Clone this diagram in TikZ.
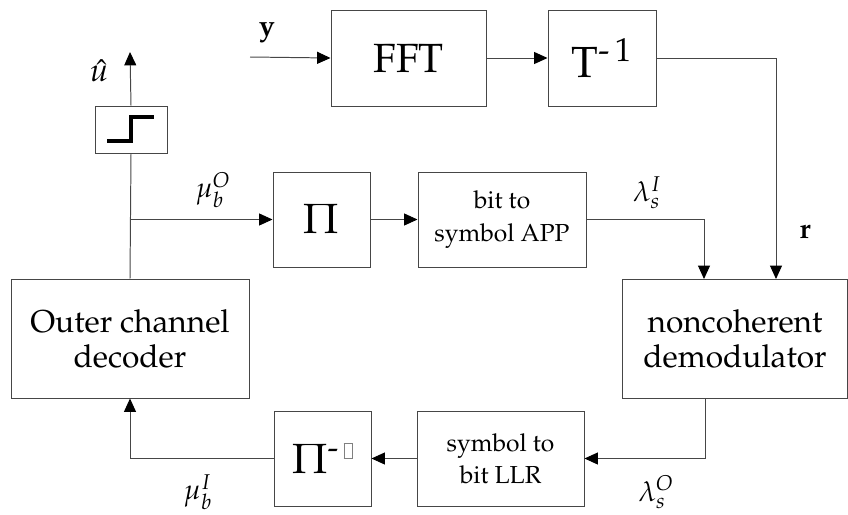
\documentclass[tikz,border=0pt]{standalone}
\usepackage[T1]{fontenc}
\usepackage{mathpazo}
\usetikzlibrary{arrows.meta, positioning}
\definecolor{wiregray}{RGB}{70,70,70}
\newcommand{\px}{0.025cm}
\newcommand{\missingglyph}{\textcolor{gray}{\fboxsep=0pt\fboxrule=0.5pt\fbox{\rule{0pt}{10.5pt}\hspace{5.5pt}}}}

\begin{document}
\begin{tikzpicture}[x=\px, y=-\px,
    blk/.style={draw=wiregray, fill=white, line width=0.7pt, align=center, inner sep=0pt},
    wire/.style={draw=wiregray, line width=0.7pt},
    sig/.style={wire, -{Triangle[length=9.5pt, width=8.5pt, color=black]}},
    lbl/.style={inner sep=0pt, font=\fontsize{20}{24}\selectfont}]
    \useasboundingbox (0,0) rectangle (848,514);

    % top row: FFT and inverse transform
    \node[blk, minimum width=155*\px, minimum height=96*\px, font=\fontsize{29}{33}\selectfont]
      (fft) at (408.5,58) {FFT};
    \node[blk, minimum width=108*\px, minimum height=96*\px, font=\fontsize{31}{35}\selectfont]
      (tinv) at (602,58) {T\textsuperscript{-\,1}};

    % hard decision box
    \node[blk, minimum width=72*\px, minimum height=47*\px] (step) at (131,129.5) {};
    \draw[line width=2.2pt] (107,141) -- (131,141) -- (131,117) -- (154,117);

    % middle row
    \node[blk, minimum width=97*\px, minimum height=95*\px, font=\fontsize{30}{34}\selectfont]
      (pi) at (321.5,219.5) {$\Pi$};
    \node[blk, minimum width=168*\px, minimum height=95*\px, font=\fontsize{17.5}{23}\selectfont]
      (bts) at (502,219.5) {bit to\\symbol APP};

    % decoder and demodulator
    \node[blk, minimum width=238*\px, minimum height=119*\px, font=\fontsize{22.5}{25}\selectfont]
      (dec) at (130,338.5) {Outer channel\\decoder};
    \node[blk, minimum width=225*\px, minimum height=119*\px, font=\fontsize{22.5}{25}\selectfont]
      (dem) at (735,338.5) {noncoherent\\demodulator};

    % bottom row
    \node[blk, minimum width=167*\px, minimum height=95*\px, font=\fontsize{17.5}{23}\selectfont]
      (llr) at (500.5,458.5) {symbol to\\bit LLR};
    \node[blk, minimum width=97*\px, minimum height=95*\px, font=\fontsize{30}{34}\selectfont]
      (piinv) at (322.5,458.5) {$\Pi$\textsuperscript{-\,\missingglyph}};

    % free ends of connectors
    \coordinate (yin) at (250,57);
    \coordinate (uout) at (130,52);
    \coordinate (rdrop) at (776,279);
    \coordinate (lamdrop) at (704,279);
    \coordinate (lamout) at (705,398.5);
    \coordinate (tap) at (dec.north |- pi.west);

    % connectors
    \draw[sig] (yin) -- (fft.west);
    \draw[sig] (fft) -- (tinv);
    \draw[sig] (tinv.east) -| (rdrop);
    \draw[sig] (bts.east) -| (lamdrop);
    \draw[sig] (lamout) |- (llr.east);
    \draw[sig] (llr) -- (piinv);
    \draw[sig] (piinv.west) -| (dec.south);
    \draw[wire] (dec.north) -- (step.south);
    \draw[sig] (step.north) -- (uout);
    \draw[sig] (tap) -- (pi.west);
    \draw[sig] (pi) -- (bts);

    % labels
    \node[lbl] (ylab) at (267,33) {$\mathbf{y}$};
    \node[lbl] (rlab) at (805,232) {$\mathbf{r}$};
    \node[lbl, font=\fontsize{23}{26}\selectfont] (uhat) at (99,71) {$\hat{u}$};
    \node[lbl] (muO) at (213,190) {$\mu_b^O$};
    \node[lbl] (lamI) at (647,193) {$\lambda_s^I$};
    \node[lbl] (lamO) at (656,492) {$\lambda_s^O$};
    \node[lbl] (muI) at (198,492) {$\mu_b^I$};
\end{tikzpicture}
\end{document}
